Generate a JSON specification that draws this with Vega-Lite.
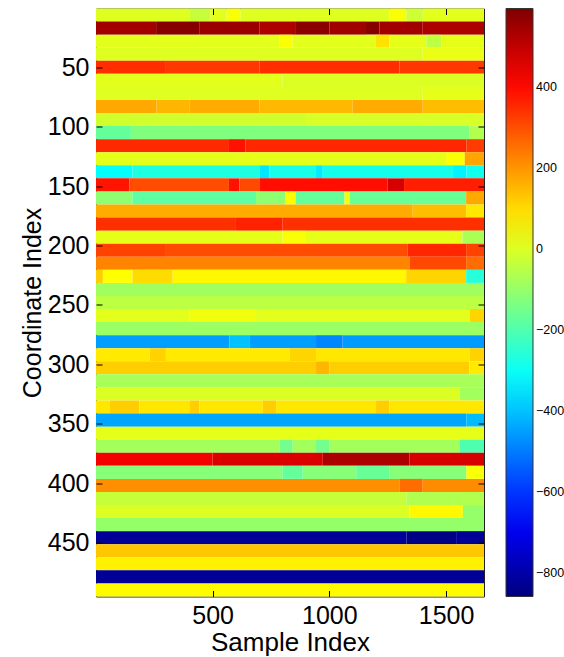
{
  "$schema": "https://vega.github.io/schema/vega-lite/v6.json",
  "width": 388,
  "height": 588,
  "autosize": "none",
  "padding": {"left": 96, "top": 8.5, "right": 80, "bottom": 60.5},
  "background": "white",
  "config": {
    "font": "Liberation Sans",
    "view": {"stroke": "#222222", "strokeWidth": 1},
    "axis": {"labelColor": "black", "titleColor": "black", "tickColor": "black", "tickWidth": 1, "titleFontWeight": "normal", "grid": false, "domain": false}
  },
  "data": {"values": [
    {"c0":0.5,"c1":11.5,"s0":0.5,"s1":400,"v":5},{"c0":0.5,"c1":11.5,"s0":400,"s1":490,"v":-30},{"c0":0.5,"c1":11.5,"s0":490,"s1":560,"v":10},{"c0":0.5,"c1":11.5,"s0":560,"s1":620,"v":40},{"c0":0.5,"c1":11.5,"s0":620,"s1":1258,"v":5},{"c0":0.5,"c1":11.5,"s0":1258,"s1":1330,"v":40},{"c0":0.5,"c1":11.5,"s0":1330,"s1":1400,"v":-20},{"c0":0.5,"c1":11.5,"s0":1400,"s1":1662.5,"v":10},
    {"c0":11.5,"c1":22.5,"s0":0.5,"s1":258,"v":545},{"c0":11.5,"c1":22.5,"s0":258,"s1":445,"v":585},{"c0":11.5,"c1":22.5,"s0":445,"s1":700,"v":555},{"c0":11.5,"c1":22.5,"s0":700,"s1":857,"v":530},{"c0":11.5,"c1":22.5,"s0":857,"s1":1000,"v":580},{"c0":11.5,"c1":22.5,"s0":1000,"s1":1157,"v":550},{"c0":11.5,"c1":22.5,"s0":1157,"s1":1215,"v":585},{"c0":11.5,"c1":22.5,"s0":1215,"s1":1400,"v":545},{"c0":11.5,"c1":22.5,"s0":1400,"s1":1662.5,"v":530},
    {"c0":22.5,"c1":33.5,"s0":0.5,"s1":786,"v":10},{"c0":22.5,"c1":33.5,"s0":786,"s1":843,"v":45},{"c0":22.5,"c1":33.5,"s0":843,"s1":1200,"v":10},{"c0":22.5,"c1":33.5,"s0":1200,"s1":1258,"v":90},{"c0":22.5,"c1":33.5,"s0":1258,"s1":1415,"v":15},{"c0":22.5,"c1":33.5,"s0":1415,"s1":1480,"v":-40},{"c0":22.5,"c1":33.5,"s0":1480,"s1":1662.5,"v":15},
    {"c0":33.5,"c1":44.5,"s0":0.5,"s1":1400,"v":5},{"c0":33.5,"c1":44.5,"s0":1400,"s1":1662.5,"v":20},
    {"c0":44.5,"c1":55.5,"s0":0.5,"s1":300,"v":350},{"c0":44.5,"c1":55.5,"s0":300,"s1":700,"v":335},{"c0":44.5,"c1":55.5,"s0":700,"s1":1300,"v":350},{"c0":44.5,"c1":55.5,"s0":1300,"s1":1662.5,"v":335},
    {"c0":55.5,"c1":66.5,"s0":0.5,"s1":800,"v":10},{"c0":55.5,"c1":66.5,"s0":800,"s1":1662.5,"v":0},
    {"c0":66.5,"c1":77.5,"s0":0.5,"s1":1400,"v":5},{"c0":66.5,"c1":77.5,"s0":1400,"s1":1662.5,"v":15},
    {"c0":77.5,"c1":88.5,"s0":0.5,"s1":260,"v":175},{"c0":77.5,"c1":88.5,"s0":260,"s1":400,"v":155},{"c0":77.5,"c1":88.5,"s0":400,"s1":700,"v":170},{"c0":77.5,"c1":88.5,"s0":700,"s1":1100,"v":150},{"c0":77.5,"c1":88.5,"s0":1100,"s1":1400,"v":170},{"c0":77.5,"c1":88.5,"s0":1400,"s1":1662.5,"v":145},
    {"c0":88.5,"c1":99.5,"s0":0.5,"s1":900,"v":-15},{"c0":88.5,"c1":99.5,"s0":900,"s1":1662.5,"v":-5},
    {"c0":99.5,"c1":110.5,"s0":0.5,"s1":150,"v":-170},{"c0":99.5,"c1":110.5,"s0":150,"s1":1600,"v":-130},{"c0":99.5,"c1":110.5,"s0":1600,"s1":1662.5,"v":-60},
    {"c0":110.5,"c1":121.5,"s0":0.5,"s1":570,"v":355},{"c0":110.5,"c1":121.5,"s0":570,"s1":640,"v":390},{"c0":110.5,"c1":121.5,"s0":640,"s1":1587,"v":360},{"c0":110.5,"c1":121.5,"s0":1587,"s1":1662.5,"v":330},
    {"c0":121.5,"c1":132.5,"s0":0.5,"s1":1500,"v":15},{"c0":121.5,"c1":132.5,"s0":1500,"s1":1580,"v":45},{"c0":121.5,"c1":132.5,"s0":1580,"s1":1662.5,"v":180},
    {"c0":132.5,"c1":143.5,"s0":0.5,"s1":157,"v":-310},{"c0":132.5,"c1":143.5,"s0":157,"s1":700,"v":-270},{"c0":132.5,"c1":143.5,"s0":700,"s1":743,"v":-345},{"c0":132.5,"c1":143.5,"s0":743,"s1":943,"v":-280},{"c0":132.5,"c1":143.5,"s0":943,"s1":972,"v":-340},{"c0":132.5,"c1":143.5,"s0":972,"s1":1530,"v":-285},{"c0":132.5,"c1":143.5,"s0":1530,"s1":1587,"v":-330},{"c0":132.5,"c1":143.5,"s0":1587,"s1":1662.5,"v":-290},
    {"c0":143.5,"c1":154.5,"s0":0.5,"s1":143,"v":385},{"c0":143.5,"c1":154.5,"s0":143,"s1":570,"v":305},{"c0":143.5,"c1":154.5,"s0":570,"s1":615,"v":390},{"c0":143.5,"c1":154.5,"s0":615,"s1":700,"v":310},{"c0":143.5,"c1":154.5,"s0":700,"s1":1250,"v":395},{"c0":143.5,"c1":154.5,"s0":1250,"s1":1320,"v":470},{"c0":143.5,"c1":154.5,"s0":1320,"s1":1662.5,"v":370},
    {"c0":154.5,"c1":165.5,"s0":0.5,"s1":157,"v":-110},{"c0":154.5,"c1":165.5,"s0":157,"s1":686,"v":-180},{"c0":154.5,"c1":165.5,"s0":686,"s1":812,"v":-110},{"c0":154.5,"c1":165.5,"s0":812,"s1":855,"v":55},{"c0":154.5,"c1":165.5,"s0":855,"s1":1065,"v":-170},{"c0":154.5,"c1":165.5,"s0":1065,"s1":1087,"v":30},{"c0":154.5,"c1":165.5,"s0":1087,"s1":1586,"v":-165},{"c0":154.5,"c1":165.5,"s0":1586,"s1":1662.5,"v":175},
    {"c0":165.5,"c1":176.5,"s0":0.5,"s1":1357,"v":170},{"c0":165.5,"c1":176.5,"s0":1357,"s1":1586,"v":145},{"c0":165.5,"c1":176.5,"s0":1586,"s1":1662.5,"v":85},
    {"c0":176.5,"c1":187.5,"s0":0.5,"s1":600,"v":345},{"c0":176.5,"c1":187.5,"s0":600,"s1":800,"v":365},{"c0":176.5,"c1":187.5,"s0":800,"s1":1662.5,"v":345},
    {"c0":187.5,"c1":198.5,"s0":0.5,"s1":800,"v":15},{"c0":187.5,"c1":198.5,"s0":800,"s1":900,"v":40},{"c0":187.5,"c1":198.5,"s0":900,"s1":1570,"v":15},{"c0":187.5,"c1":198.5,"s0":1570,"s1":1662.5,"v":-70},
    {"c0":198.5,"c1":209.5,"s0":0.5,"s1":300,"v":320},{"c0":198.5,"c1":209.5,"s0":300,"s1":1336,"v":305},{"c0":198.5,"c1":209.5,"s0":1336,"s1":1586,"v":360},{"c0":198.5,"c1":209.5,"s0":1586,"s1":1662.5,"v":320},
    {"c0":209.5,"c1":220.5,"s0":0.5,"s1":1343,"v":225},{"c0":209.5,"c1":220.5,"s0":1343,"s1":1586,"v":310},{"c0":209.5,"c1":220.5,"s0":1586,"s1":1662.5,"v":260},
    {"c0":220.5,"c1":231.5,"s0":0.5,"s1":30,"v":120},{"c0":220.5,"c1":231.5,"s0":30,"s1":157,"v":50},{"c0":220.5,"c1":231.5,"s0":157,"s1":329,"v":100},{"c0":220.5,"c1":231.5,"s0":329,"s1":1329,"v":60},{"c0":220.5,"c1":231.5,"s0":1329,"s1":1586,"v":110},{"c0":220.5,"c1":231.5,"s0":1586,"s1":1662.5,"v":-260},
    {"c0":231.5,"c1":242.5,"s0":0.5,"s1":1662.5,"v":-85},
    {"c0":242.5,"c1":253.5,"s0":0.5,"s1":1662.5,"v":-45},
    {"c0":253.5,"c1":264.5,"s0":0.5,"s1":400,"v":10},{"c0":253.5,"c1":264.5,"s0":400,"s1":686,"v":30},{"c0":253.5,"c1":264.5,"s0":686,"s1":1600,"v":10},{"c0":253.5,"c1":264.5,"s0":1600,"s1":1662.5,"v":110},
    {"c0":264.5,"c1":275.5,"s0":0.5,"s1":1662.5,"v":-90},
    {"c0":275.5,"c1":286.5,"s0":0.5,"s1":572,"v":-450},{"c0":275.5,"c1":286.5,"s0":572,"s1":657,"v":-400},{"c0":275.5,"c1":286.5,"s0":657,"s1":943,"v":-450},{"c0":275.5,"c1":286.5,"s0":943,"s1":1057,"v":-485},{"c0":275.5,"c1":286.5,"s0":1057,"s1":1662.5,"v":-455},
    {"c0":286.5,"c1":297.5,"s0":0.5,"s1":230,"v":80},{"c0":286.5,"c1":297.5,"s0":230,"s1":300,"v":115},{"c0":286.5,"c1":297.5,"s0":300,"s1":829,"v":80},{"c0":286.5,"c1":297.5,"s0":829,"s1":943,"v":110},{"c0":286.5,"c1":297.5,"s0":943,"s1":1600,"v":85},{"c0":286.5,"c1":297.5,"s0":1600,"s1":1662.5,"v":115},
    {"c0":297.5,"c1":308.5,"s0":0.5,"s1":943,"v":120},{"c0":297.5,"c1":308.5,"s0":943,"s1":1000,"v":155},{"c0":297.5,"c1":308.5,"s0":1000,"s1":1600,"v":120},{"c0":297.5,"c1":308.5,"s0":1600,"s1":1662.5,"v":80},
    {"c0":308.5,"c1":319.5,"s0":0.5,"s1":1662.5,"v":-75},
    {"c0":319.5,"c1":330.5,"s0":0.5,"s1":1557,"v":0},{"c0":319.5,"c1":330.5,"s0":1557,"s1":1662.5,"v":-80},
    {"c0":330.5,"c1":341.5,"s0":0.5,"s1":60,"v":85},{"c0":330.5,"c1":341.5,"s0":60,"s1":186,"v":120},{"c0":330.5,"c1":341.5,"s0":186,"s1":400,"v":85},{"c0":330.5,"c1":341.5,"s0":400,"s1":443,"v":120},{"c0":330.5,"c1":341.5,"s0":443,"s1":715,"v":85},{"c0":330.5,"c1":341.5,"s0":715,"s1":772,"v":120},{"c0":330.5,"c1":341.5,"s0":772,"s1":1200,"v":85},{"c0":330.5,"c1":341.5,"s0":1200,"s1":1258,"v":120},{"c0":330.5,"c1":341.5,"s0":1258,"s1":1662.5,"v":85},
    {"c0":341.5,"c1":352.5,"s0":0.5,"s1":1587,"v":-440},{"c0":341.5,"c1":352.5,"s0":1587,"s1":1662.5,"v":-410},
    {"c0":352.5,"c1":363.5,"s0":0.5,"s1":1662.5,"v":15},
    {"c0":363.5,"c1":374.5,"s0":0.5,"s1":786,"v":-80},{"c0":363.5,"c1":374.5,"s0":786,"s1":843,"v":-150},{"c0":363.5,"c1":374.5,"s0":843,"s1":943,"v":-80},{"c0":363.5,"c1":374.5,"s0":943,"s1":1000,"v":-150},{"c0":363.5,"c1":374.5,"s0":1000,"s1":1557,"v":-80},{"c0":363.5,"c1":374.5,"s0":1557,"s1":1662.5,"v":-200},
    {"c0":374.5,"c1":385.5,"s0":0.5,"s1":500,"v":430},{"c0":374.5,"c1":385.5,"s0":500,"s1":972,"v":465},{"c0":374.5,"c1":385.5,"s0":972,"s1":1343,"v":530},{"c0":374.5,"c1":385.5,"s0":1343,"s1":1662.5,"v":470},
    {"c0":385.5,"c1":396.5,"s0":0.5,"s1":800,"v":-120},{"c0":385.5,"c1":396.5,"s0":800,"s1":886,"v":-170},{"c0":385.5,"c1":396.5,"s0":886,"s1":1115,"v":-120},{"c0":385.5,"c1":396.5,"s0":1115,"s1":1258,"v":-165},{"c0":385.5,"c1":396.5,"s0":1258,"s1":1587,"v":-120},{"c0":385.5,"c1":396.5,"s0":1587,"s1":1662.5,"v":40},
    {"c0":396.5,"c1":407.5,"s0":0.5,"s1":1300,"v":210},{"c0":396.5,"c1":407.5,"s0":1300,"s1":1400,"v":260},{"c0":396.5,"c1":407.5,"s0":1400,"s1":1662.5,"v":215},
    {"c0":407.5,"c1":418.5,"s0":0.5,"s1":1330,"v":-30},{"c0":407.5,"c1":418.5,"s0":1330,"s1":1662.5,"v":-60},
    {"c0":418.5,"c1":429.5,"s0":0.5,"s1":1343,"v":0},{"c0":418.5,"c1":429.5,"s0":1343,"s1":1572,"v":60},{"c0":418.5,"c1":429.5,"s0":1572,"s1":1662.5,"v":-100},
    {"c0":429.5,"c1":440.5,"s0":0.5,"s1":1662.5,"v":-100},
    {"c0":440.5,"c1":451.5,"s0":0.5,"s1":1330,"v":-820},{"c0":440.5,"c1":451.5,"s0":1330,"s1":1543,"v":-845},{"c0":440.5,"c1":451.5,"s0":1543,"s1":1662.5,"v":-825},
    {"c0":451.5,"c1":462.5,"s0":0.5,"s1":1662.5,"v":130},
    {"c0":462.5,"c1":473.5,"s0":0.5,"s1":1662.5,"v":70},
    {"c0":473.5,"c1":484.5,"s0":0.5,"s1":1662.5,"v":-825},
    {"c0":484.5,"c1":495.5,"s0":0.5,"s1":1662.5,"v":55}
  ]},
  "resolve": {"axis": {"x": "independent", "y": "independent"}},
  "layer": [
    {
      "mark": {"type": "rect"},
      "encoding": {
        "x": {"field": "s0", "type": "quantitative", "scale": {"domain": [0.5, 1662.5], "nice": false, "zero": false},
          "axis": {"orient": "bottom", "zindex": 1, "values": [500, 1000, 1500], "format": "d", "offset": -6, "tickSize": 6, "labelPadding": 7, "labelFontSize": 25, "title": "Sample Index", "titleFontSize": 26, "titlePadding": 1}},
        "x2": {"field": "s1"},
        "y": {"field": "c0", "type": "quantitative", "scale": {"domain": [0.5, 495.5], "reverse": true, "nice": false, "zero": false},
          "axis": {"orient": "left", "zindex": 1, "values": [50, 100, 150, 200, 250, 300, 350, 400, 450], "format": "d", "offset": -6, "tickSize": 6, "labelPadding": 7, "labelFontSize": 25, "title": "Coordinate Index", "titleFontSize": 25, "titlePadding": 2}},
        "y2": {"field": "c1"},
        "color": {"field": "v", "type": "quantitative",
          "scale": {"domain": [-857, -675.5, -312.5, 50.5, 413.5, 595], "range": ["#00007F", "#0000FF", "#00FFFF", "#FFFF00", "#FF0000", "#7F0000"], "interpolate": "rgb"},
          "legend": {"type": "gradient", "orient": "right", "offset": 21, "padding": 0, "title": null, "direction": "vertical", "gradientLength": 588, "gradientThickness": 27, "gradientStrokeColor": "#333333", "gradientStrokeWidth": 1, "values": [-800, -600, -400, -200, 0, 200, 400], "labelFontSize": 12.5, "labelOffset": 3, "labelColor": "black", "labelOverlap": false}}
      }
    },
    {
      "mark": {"type": "rect", "opacity": 0},
      "encoding": {
        "x": {"field": "s0", "type": "quantitative", "scale": {"domain": [0.5, 1662.5], "nice": false, "zero": false},
          "axis": {"orient": "top", "zindex": 1, "values": [500, 1000, 1500], "offset": -6, "tickSize": 6, "labels": false, "title": null}},
        "x2": {"field": "s1"},
        "y": {"field": "c0", "type": "quantitative", "scale": {"domain": [0.5, 495.5], "reverse": true, "nice": false, "zero": false},
          "axis": {"orient": "right", "zindex": 1, "values": [50, 100, 150, 200, 250, 300, 350, 400, 450], "offset": -6, "tickSize": 6, "labels": false, "title": null}},
        "y2": {"field": "c1"}
      }
    }
  ]
}
